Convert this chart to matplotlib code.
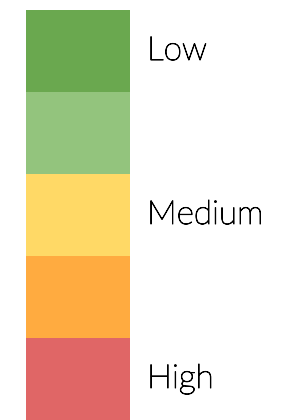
import matplotlib
matplotlib.use("Agg")
import matplotlib.pyplot as plt
import matplotlib.patheffects as pe

levels = ["Low", "", "Medium", "", "High"]
colors = ["#6aa84f", "#93c47d", "#ffd966", "#ffab40", "#e06666"]

W, H = 301, 420
fig = plt.figure(figsize=(W / 100, H / 100), dpi=100)
ax = fig.add_axes([0, 0, 1, 1])
ax.set_xlim(0, W)
ax.set_ylim(H, 0)
ax.axis("off")

top = 10
bh = (H - top) / len(levels)
for i, (lab, c) in enumerate(zip(levels, colors)):
    y0 = top + i * bh
    ax.bar(26, bh, width=104, bottom=y0, align="edge", color=c, linewidth=0)
    if lab:
        ax.text(147, y0 + bh / 2, lab, fontsize=24, family="Lato", weight="light",
                va="center", ha="left", color="#000000",
                path_effects=[pe.withStroke(linewidth=0.7, foreground="#000000")])

fig.savefig("out.png", dpi=100)
